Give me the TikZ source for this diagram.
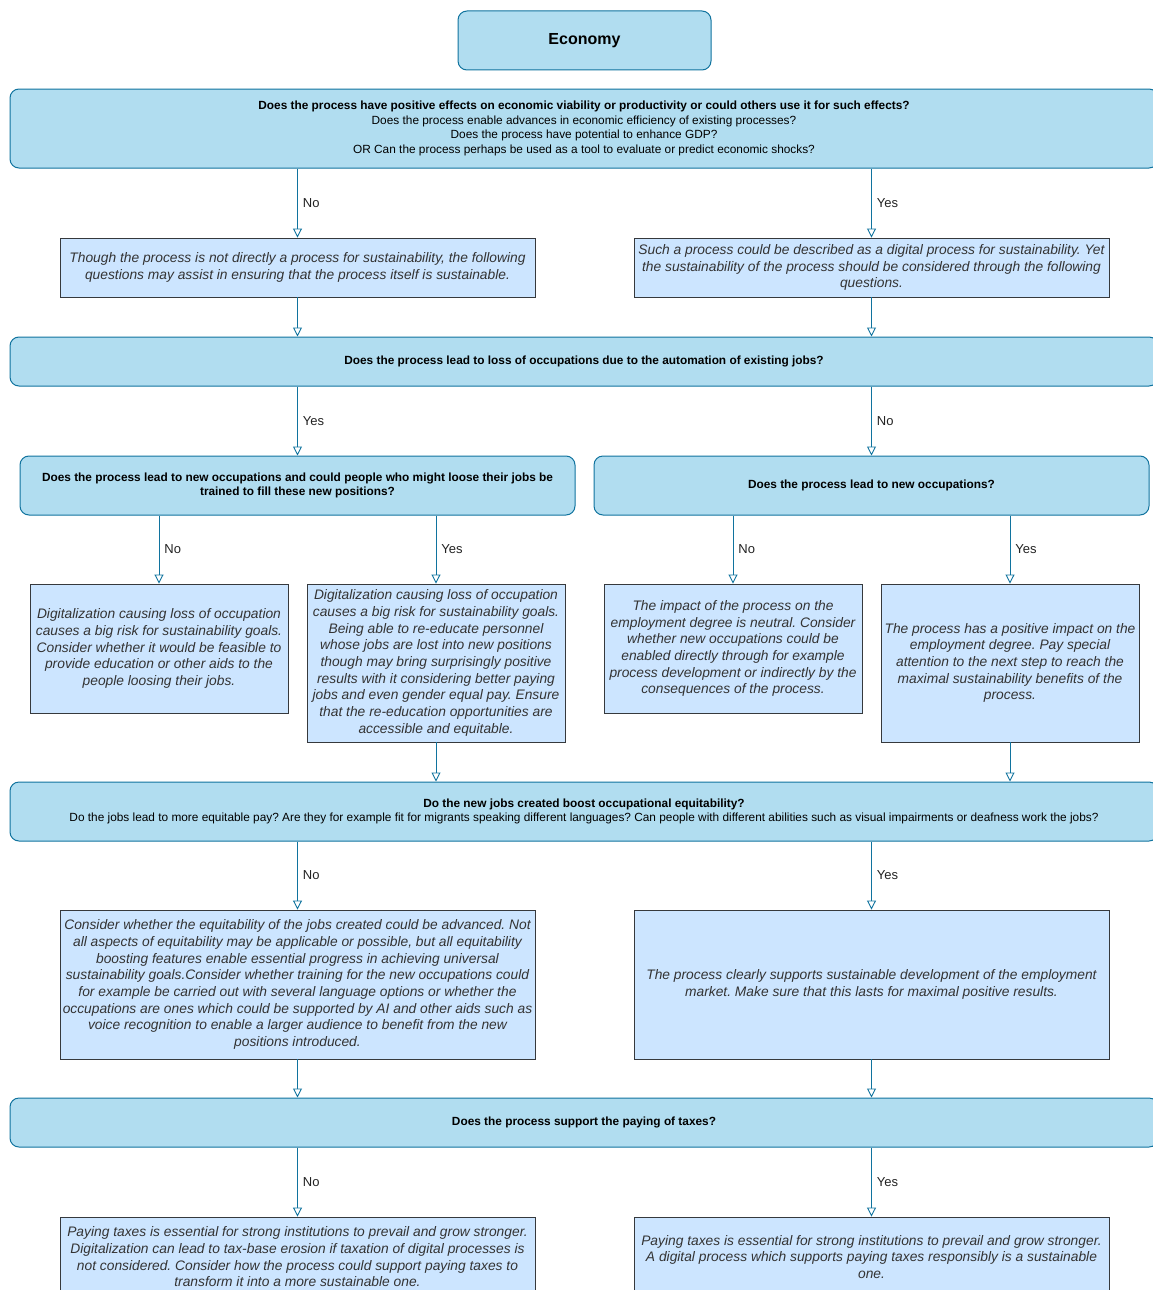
\documentclass[tikz,border=0pt]{standalone}
\usepackage{fontspec}
\setmainfont{Liberation Sans}
\usetikzlibrary{arrows.meta}
\definecolor{qfill}{HTML}{B1DDF0}
\definecolor{qline}{HTML}{10739E}
\definecolor{afill}{HTML}{CCE5FF}
\definecolor{aline}{HTML}{36393D}
\definecolor{atext}{HTML}{333333}
\definecolor{ltext}{HTML}{222222}

\begin{document}
\frenchspacing
\begin{tikzpicture}[x=1pt,y=-1pt,
  question/.style={draw=qline, fill=qfill, line width=1pt, rounded corners=9pt,
    align=center, inner sep=0pt, text=black,
    font=\fontsize{11.85}{14.8}\selectfont\bfseries},
  answer/.style={draw=aline, fill=afill, line width=0.9pt, align=center,
    inner sep=0pt, text=atext, font=\fontsize{13.8}{16.7}\selectfont\itshape},
  flow/.style={draw=qline, line width=0.9pt,
    -{Triangle[open,length=9pt,width=9pt]}},
  lbl/.style={midway, anchor=west, xshift=4pt, inner sep=1pt, text=ltext,
    font=\fontsize{13}{15}\selectfont}
]
\useasboundingbox (0,0) rectangle (1153,1290);
\clip (0,0) rectangle (1153,1290);

% title
\node[question, minimum width=253pt, minimum height=59pt,
      font=\fontsize{16}{19}\selectfont\bfseries] (title) at (584.5,40.5) {Economy};

% first question and its two answers
\node[question, minimum width=1148pt, minimum height=79pt] (q1) at (584,128.5)
  {Does the process have positive effects on economic viability or productivity or could others use it for such effects?\\
   \mdseries Does the process enable advances in economic efficiency of existing processes?\\
   \mdseries Does the process have potential to enhance GDP?\\
   \mdseries OR Can the process perhaps be used as a tool to evaluate or predict economic shocks?};

\node[answer, minimum width=475pt, minimum height=59pt] (a1) at (297.5,267.5)
  {Though the process is not directly a process for sustainability, the following\\
   questions may assist in ensuring that the process itself is sustainable.};
\node[answer, minimum width=475pt, minimum height=59pt] (a2) at (871.5,267.5)
  {Such a process could be described as a digital process for sustainability. Yet\\
   the sustainability of the process should be considered through the following\\
   questions.};

% automation question
\node[question, minimum width=1148pt, minimum height=49pt] (q2) at (584,361.5)
  {Does the process lead to loss of occupations due to the automation of existing jobs?};

\node[question, minimum width=555pt, minimum height=59pt] (q3) at (297.5,485.5)
  {Does the process lead to new occupations and could people who might loose their jobs be\\
   trained to fill these new positions?};
\node[question, minimum width=555pt, minimum height=59pt] (q4) at (871.5,485.5)
  {Does the process lead to new occupations?};

\node[answer, minimum width=258pt, minimum height=129pt] (b1) at (159,648.5)
  {Digitalization causing loss of occupation\\
   causes a big risk for sustainability goals.\\
   Consider whether it would be feasible to\\
   provide education or other aids to the\\
   people loosing their jobs.};
\node[answer, minimum width=258pt, minimum height=158pt] (b2) at (436,663)
  {Digitalization causing loss of occupation\\
   causes a big risk for sustainability goals.\\
   Being able to re-educate personnel\\
   whose jobs are lost into new positions\\
   though may bring surprisingly positive\\
   results with it considering better paying\\
   jobs and even gender equal pay. Ensure\\
   that the re-education opportunities are\\
   accessible and equitable.};
\node[answer, minimum width=258pt, minimum height=129pt] (b3) at (733,648.5)
  {The impact of the process on the\\
   employment degree is neutral. Consider\\
   whether new occupations could be\\
   enabled directly through for example\\
   process development or indirectly by the\\
   consequences of the process.};
\node[answer, minimum width=258pt, minimum height=158pt] (b4) at (1010,663)
  {The process has a positive impact on the\\
   employment degree. Pay special\\
   attention to the next step to reach the\\
   maximal sustainability benefits of the\\
   process.};

% equitability question
\node[question, minimum width=1148pt, minimum height=59pt] (q5) at (584,811.5)
  {Do the new jobs created boost occupational equitability?\\
   \mdseries Do the jobs lead to more equitable pay? Are they for example fit for migrants speaking different languages? Can people with different abilities such as visual impairments or deafness work the jobs?};

\node[answer, minimum width=475pt, minimum height=149pt] (c1) at (297.5,984.5)
  {Consider whether the equitability of the jobs created could be advanced. Not\\
   all aspects of equitability may be applicable or possible, but all equitability\\
   boosting features enable essential progress in achieving universal\\
   sustainability goals.Consider whether training for the new occupations could\\
   for example be carried out with several language options or whether the\\
   occupations are ones which could be supported by AI and other aids such as\\
   voice recognition to enable a larger audience to benefit from the new\\
   positions introduced.};
\node[answer, minimum width=475pt, minimum height=149pt] (c2) at (871.5,984.5)
  {The process clearly supports sustainable development of the employment\\
   market. Make sure that this lasts for maximal positive results.};

% taxes question
\node[question, minimum width=1148pt, minimum height=49pt] (q6) at (584,1122.5)
  {Does the process support the paying of taxes?};

\node[answer, minimum width=475pt, minimum height=80pt] (d1) at (297.5,1257)
  {Paying taxes is essential for strong institutions to prevail and grow stronger.\\
   Digitalization can lead to tax-base erosion if taxation of digital processes is\\
   not considered. Consider how the process could support paying taxes to\\
   transform it into a more sustainable one.};
\node[answer, minimum width=475pt, minimum height=80pt] (d2) at (871.5,1257)
  {Paying taxes is essential for strong institutions to prevail and grow stronger.\\
   A digital process which supports paying taxes responsibly is a sustainable\\
   one.};

% connectors
\draw[flow] (q1.south -| a1.north) -- node[lbl]{No} (a1.north);
\draw[flow] (q1.south -| a2.north) -- node[lbl]{Yes} (a2.north);
\draw[flow] (a1.south) -- (a1.south |- q2.north);
\draw[flow] (a2.south) -- (a2.south |- q2.north);

\draw[flow] (q2.south -| q3.north) -- node[lbl]{Yes} (q3.north);
\draw[flow] (q2.south -| q4.north) -- node[lbl]{No} (q4.north);

\draw[flow] (q3.south -| b1.north) -- node[lbl]{No} (b1.north);
\draw[flow] (q3.south -| b2.north) -- node[lbl]{Yes} (b2.north);
\draw[flow] (q4.south -| b3.north) -- node[lbl]{No} (b3.north);
\draw[flow] (q4.south -| b4.north) -- node[lbl]{Yes} (b4.north);

\draw[flow] (b2.south) -- (b2.south |- q5.north);
\draw[flow] (b4.south) -- (b4.south |- q5.north);

\draw[flow] (q5.south -| c1.north) -- node[lbl]{No} (c1.north);
\draw[flow] (q5.south -| c2.north) -- node[lbl]{Yes} (c2.north);
\draw[flow] (c1.south) -- (c1.south |- q6.north);
\draw[flow] (c2.south) -- (c2.south |- q6.north);

\draw[flow] (q6.south -| d1.north) -- node[lbl]{No} (d1.north);
\draw[flow] (q6.south -| d2.north) -- node[lbl]{Yes} (d2.north);
\end{tikzpicture}
\end{document}
